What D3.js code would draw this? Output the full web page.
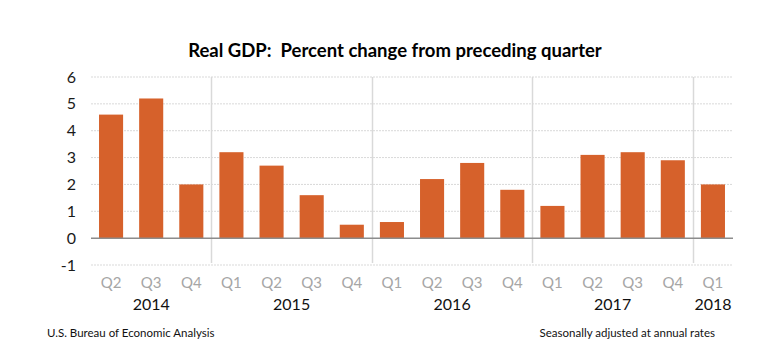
<!DOCTYPE html>
<html>
<head>
<meta charset="utf-8">
<script src="https://cdn.jsdelivr.net/npm/d3@7"></script>
<style>
  body { margin: 0; background: #fff; }
  svg { display: block; font-family: Lato, "Open Sans", sans-serif; }
</style>
</head>
<body>
<svg id="chart" width="777" height="362"></svg>
<script>
// data
const quarters = ["Q2", "Q3", "Q4", "Q1", "Q2", "Q3", "Q4", "Q1", "Q2", "Q3", "Q4", "Q1", "Q2", "Q3", "Q4", "Q1"];
const years = ["2014", "2014", "2014", "2015", "2015", "2015", "2015", "2016", "2016", "2016", "2016", "2017", "2017", "2017", "2017", "2018"];
const gdp = [4.6, 5.2, 2.0, 3.2, 2.7, 1.6, 0.5, 0.6, 2.2, 2.8, 1.8, 1.2, 3.1, 3.2, 2.9, 2.0];
const yTicks = [-1, 0, 1, 2, 3, 4, 5, 6];

const margin = {top: 77, right: 44, bottom: 97, left: 91},
    width = 777 - margin.left - margin.right,
    height = 362 - margin.top - margin.bottom;

const svg = d3.select("#chart");
const g = svg.append("g")
    .attr("transform", "translate(" + margin.left + "," + margin.top + ")");

const keys = quarters.map((q, i) => years[i] + q);

let x = d3.scaleBand().domain(keys).range([0, width]).paddingInner(0.4).paddingOuter(0.2);
let y = d3.scaleLinear().domain([-1, 6]).range([height, 0]);

// horizontal gridlines
g.selectAll(".grid")
    .data(yTicks.filter(d => d !== 0))
    .enter().append("line")
    .attr("x1", 0).attr("x2", width)
    .attr("y1", d => y(d)).attr("y2", d => y(d))
    .attr("stroke", "#d9d9d9")
    .attr("stroke-dasharray", "2,1")
    .attr("stroke-width", 1);

// year separators
const step = x.step();
const yearList = Array.from(new Set(years));
const sepIdx = yearList.slice(1).map(yr => years.indexOf(yr));
g.selectAll(".sep")
    .data(sepIdx)
    .enter().append("line")
    .attr("x1", d => Math.round(d * step) + 0.5).attr("x2", d => Math.round(d * step) + 0.5)
    .attr("y1", y(6)).attr("y2", y(-1) - 2)
    .attr("stroke", "#d9d9d9")
    .attr("stroke-width", 1.5);

// bars
g.selectAll(".bar")
    .data(gdp)
    .enter().append("rect")
    .attr("x", (d, i) => x(keys[i]))
    .attr("width", x.bandwidth())
    .attr("y", d => y(Math.max(0, d)))
    .attr("height", d => Math.abs(y(d) - y(0)))
    .attr("fill", "#d6612b");

// zero line
g.append("line")
    .attr("x1", 0).attr("x2", width)
    .attr("y1", y(0)).attr("y2", y(0))
    .attr("stroke", "#8c8c8c")
    .attr("stroke-width", 1.5);

// y axis labels
let yAxis = d3.axisLeft(y).tickValues(yTicks).tickSize(0).tickPadding(15).tickFormat(d => String(d));
g.append("g")
    .call(yAxis)
    .call(a => a.select(".domain").remove())
    .selectAll("text")
    .attr("fill", "#1a1a1a")
    .style("font-size", "16px")
    .style("font-family", "Lato, sans-serif");

// quarter labels
g.selectAll(".qlab")
    .data(quarters)
    .enter().append("text")
    .attr("x", (d, i) => x(keys[i]) + x.bandwidth() / 2)
    .attr("y", y(-1) + 23)
    .attr("text-anchor", "middle")
    .attr("fill", "#a6a6a6")
    .style("font-size", "15px")
    .text(d => d);

// year labels centered under their quarters
g.selectAll(".ylab")
    .data(yearList)
    .enter().append("text")
    .attr("x", yr => {
        let idx = keys.map((k, i) => i).filter(i => years[i] === yr);
        let first = x(keys[idx[0]]), last = x(keys[idx[idx.length - 1]]) + x.bandwidth();
        return (first + last) / 2;
    })
    .attr("y", y(-1) + 45)
    .attr("text-anchor", "middle")
    .attr("fill", "#111")
    .style("font-size", "16px")
    .text(d => d);

// title
svg.append("text")
    .attr("x", 395).attr("y", 57)
    .attr("text-anchor", "middle")
    .attr("fill", "#000")
    .style("font-size", "18.5px")
    .style("font-weight", "bold")
    .text("Real GDP:\u00a0 Percent change from preceding quarter");

// footers
svg.append("text")
    .attr("x", 47).attr("y", 337)
    .attr("fill", "#111")
    .style("font-size", "11.5px")
    .text("U.S. Bureau of Economic Analysis");

svg.append("text")
    .attr("x", 715).attr("y", 337)
    .attr("text-anchor", "end")
    .attr("fill", "#111")
    .style("font-size", "11.5px")
    .text("Seasonally adjusted at annual rates");
</script>
</body>
</html>
